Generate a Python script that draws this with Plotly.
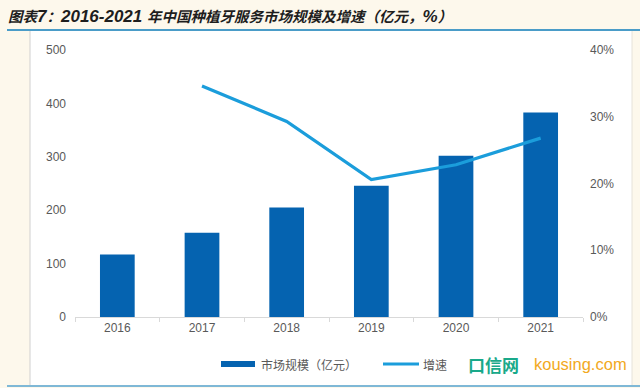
import plotly.graph_objects as go

years = ["2016", "2017", "2018", "2019", "2020", "2021"]
market_size = [117, 158, 205, 246, 302, 383]          # 亿元
growth_rate = [None, 34.6, 29.3, 20.6, 22.8, 26.8]    # %
series_names = ["市场规模（亿元）", "增速"]

W, H = 640, 388
L, R, T, B = 75, 57, 50, 71
PW, PH = W - L - R, H - T - B
BAR_COLOR = "#0563B0"
LINE_COLOR = "#1B9DDB"
TXT = "#595959"
CREAM = "#FDF8EC"


def px(x):
    return (x - L) / PW


def py(y):
    return (H - B - y) / PH


def cjk(s):
    return f"<span style='font-size:14.5px'>{s}</span>"


title_html = ("<b><i>" + cjk("图表") + "7" + cjk("：") + "2016-2021 "
              + cjk("年中国种植牙服务市场规模及增速（亿元，") + "%" + cjk("）") + "</i></b>")

fig = go.Figure()
fig.add_trace(go.Bar(x=years, y=market_size, name=series_names[0],
                     marker=dict(color=BAR_COLOR, line=dict(width=0)), yaxis="y"))
fig.add_trace(go.Scatter(x=years, y=growth_rate, name=series_names[1], mode="lines",
                         line=dict(color=LINE_COLOR, width=3.2), yaxis="y2",
                         connectgaps=False))

fig.update_layout(
    width=W, height=H,
    paper_bgcolor=CREAM, plot_bgcolor="white",
    margin=dict(l=L, r=R, t=T, b=B, autoexpand=False),
    bargap=0.59,
    showlegend=False,
    font=dict(family="Liberation Sans, Noto Sans CJK SC", size=12, color=TXT),
    xaxis=dict(type="category", showgrid=False, showline=True, linecolor="#D9D9D9",
               ticks="outside", tickson="boundaries", ticklen=4, tickcolor="#D9D9D9",
               tickfont=dict(size=12, color=TXT), zeroline=False),
    yaxis=dict(range=[0, 500], dtick=100, showgrid=False, zeroline=False,
               showline=False, tickfont=dict(size=12, color=TXT), ticklabelstandoff=8),
    yaxis2=dict(range=[0, 40], dtick=10, overlaying="y", side="right", showgrid=False,
                zeroline=False, showline=False, ticksuffix="%",
                tickfont=dict(size=12, color=TXT), ticklabelstandoff=6),
    shapes=[
        # white chart box
        dict(type="rect", xref="paper", yref="paper", layer="below",
             x0=px(30), x1=px(632), y0=py(385), y1=py(31),
             fillcolor="white", line=dict(width=0)),
        dict(type="line", xref="paper", yref="paper",
             x0=px(30), x1=px(30), y0=py(385), y1=py(31),
             line=dict(color="#D0D0D0", width=1)),
        dict(type="line", xref="paper", yref="paper",
             x0=px(632), x1=px(632), y0=py(385), y1=py(31),
             line=dict(color="#E6E2DA", width=1)),
        # top and bottom rules
        dict(type="line", xref="paper", yref="paper",
             x0=px(7), x1=px(640), y0=py(30), y1=py(30),
             line=dict(color="#4A9CC8", width=2)),
        dict(type="line", xref="paper", yref="paper",
             x0=px(7), x1=px(640), y0=py(386), y1=py(386),
             line=dict(color="#7FB8D6", width=2)),
        # legend swatches
        dict(type="rect", xref="paper", yref="paper",
             x0=px(221), x1=px(255), y0=py(367), y1=py(361),
             fillcolor=BAR_COLOR, line=dict(width=0)),
        dict(type="line", xref="paper", yref="paper",
             x0=px(383), x1=px(419), y0=py(364), y1=py(364),
             line=dict(color=LINE_COLOR, width=3)),
    ],
    annotations=[
        dict(text=title_html,
             xref="paper", yref="paper", x=px(6), xanchor="left",
             y=py(17), yanchor="middle", showarrow=False,
             font=dict(family="Liberation Sans, Noto Sans CJK SC", size=17, color="#1E1E1E")),
        dict(text=series_names[0], xref="paper", yref="paper",
             x=px(259), xanchor="left", y=py(364), yanchor="middle", showarrow=False,
             font=dict(family="Noto Sans CJK SC", size=12, color=TXT)),
        dict(text=series_names[1], xref="paper", yref="paper",
             x=px(421), xanchor="left", y=py(364), yanchor="middle", showarrow=False,
             font=dict(family="Noto Sans CJK SC", size=12, color=TXT)),
        dict(text="<b>口信网</b>", xref="paper", yref="paper",
             x=px(466), xanchor="left", y=py(364), yanchor="middle", showarrow=False,
             font=dict(family="Noto Sans CJK SC", size=17, color="#19A98A")),
        dict(text="kousing.com", xref="paper", yref="paper",
             x=px(532), xanchor="left", y=py(364), yanchor="middle", showarrow=False,
             font=dict(family="Liberation Sans", size=16.5, color="#F2A922")),
    ],
)

fig.write_html("out.html", config={"displayModeBar": False},
               post_script="document.body.style.margin='0';document.body.style.padding='0';")
